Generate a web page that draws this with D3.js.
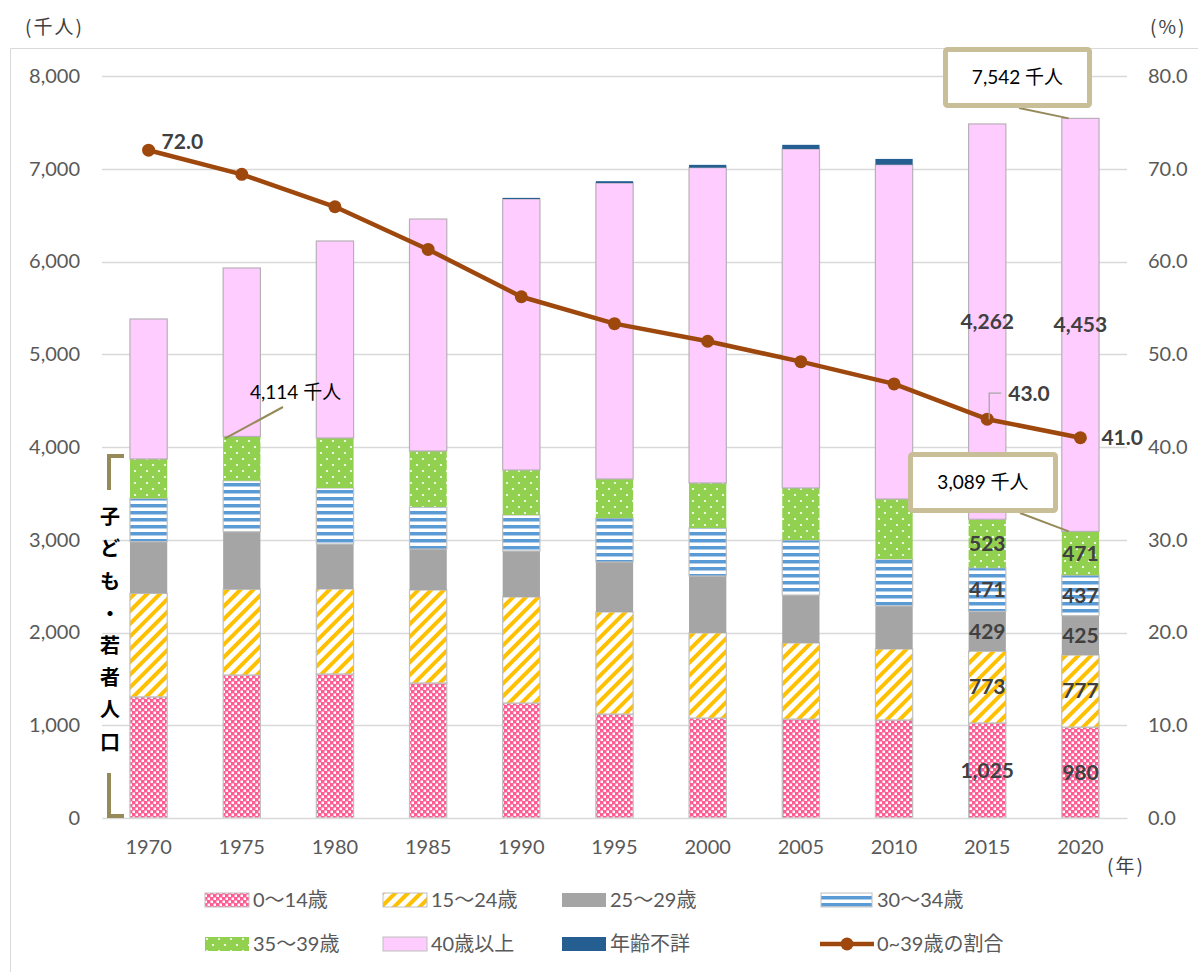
<!DOCTYPE html>
<html><head><meta charset="utf-8">
<script src="https://cdn.jsdelivr.net/npm/d3@7"></script>
<style>
html,body{margin:0;padding:0;background:#fff;}
svg{display:block;}
</style>
</head><body>
<svg id="chart" width="1198" height="972"></svg>
<script>
// ---- data ----
const years = [1970,1975,1980,1985,1990,1995,2000,2005,2010,2015,2020];
const age0_14  = [1306,1542,1553,1456,1240,1121,1078,1067,1057,1025,980];
const age15_24 = [1116, 924, 916,1002,1143,1100, 917, 820, 765, 773,777];
const age25_29 = [ 557, 621, 485, 442, 496, 539, 614, 517, 464, 429,425];
const age30_34 = [ 468, 550, 604, 453, 388, 474, 518, 593, 506, 471,437];
const age35_39 = [ 424, 477, 539, 604, 485, 421, 485, 561, 647, 523,471];
const age40plus= [1509,1816,2124,2501,2922,3191,3400,3655,3605,4262,4453];
const unknown  = [   0,   0,   0,   0,  12,  20,  30,  45,  62,   0,  0];
const ratio    = [72.0,69.4,65.9,61.3,56.2,53.3,51.4,49.2,46.8,43.0,41.0];
const leftTicks  = [0,1000,2000,3000,4000,5000,6000,7000,8000];
const rightTicks = [0,10,20,30,40,50,60,70,80];
const seriesKeys  = ["a0","a15","a25","a30","a35","a40","unk"];
const seriesNames = ["0〜14歳","15〜24歳","25〜29歳","30〜34歳","35〜39歳","40歳以上","年齢不詳"];
const lineName = "0~39歳の割合";
const labelYears = [2015,2020];
const calloutTexts = ["7,542 千人","3,089 千人","4,114 千人"];
const sideLabel = ["子","ど","も","・","若","者","人","口"];

// ---- setup ----
const svg = d3.select("#chart");
const NUM = "Lato, 'Noto Sans CJK JP', sans-serif";
const table = years.map((yr,i)=>({year:yr,a0:age0_14[i],a15:age15_24[i],a25:age25_29[i],a30:age30_34[i],a35:age35_39[i],a40:age40plus[i],unk:unknown[i],ratio:ratio[i]}));

const x = d3.scaleBand().domain(years).range([102,1127]).paddingInner(0.6).paddingOuter(0.3);
const y = d3.scaleLinear().domain([0,8000]).range([818,76]);
const y2 = d3.scaleLinear().domain([0,80]).range([818,76]);

// patterns
const defs = svg.append("defs");
let p = defs.append("pattern").attr("id","pCheck").attr("patternUnits","userSpaceOnUse").attr("width",6).attr("height",6);
p.append("rect").attr("width",6).attr("height",6).attr("fill","#ff5c93");
p.append("rect").attr("x",0.5).attr("y",0.5).attr("width",2.5).attr("height",2.5).attr("fill","#fff");
p.append("rect").attr("x",3.5).attr("y",3.5).attr("width",2.5).attr("height",2.5).attr("fill","#fff");
p = defs.append("pattern").attr("id","pDiag").attr("patternUnits","userSpaceOnUse").attr("width",9).attr("height",9).attr("patternTransform","rotate(45)");
p.append("rect").attr("width",9).attr("height",9).attr("fill","#fff");
p.append("rect").attr("width",4).attr("height",9).attr("fill","#ffc000");
p = defs.append("pattern").attr("id","pHor").attr("patternUnits","userSpaceOnUse").attr("width",8).attr("height",7);
p.append("rect").attr("width",8).attr("height",7).attr("fill","#fff");
p.append("rect").attr("y",0).attr("width",8).attr("height",3.5).attr("fill","#5b9bd5");
p = defs.append("pattern").attr("id","pDot").attr("patternUnits","userSpaceOnUse").attr("width",12).attr("height",12);
p.append("rect").attr("width",12).attr("height",12).attr("fill","#92d050");
p.append("circle").attr("cx",3).attr("cy",3).attr("r",1.1).attr("fill","#fff");
p.append("circle").attr("cx",9).attr("cy",9).attr("r",1.1).attr("fill","#fff");

const fills = {a0:"url(#pCheck)",a15:"url(#pDiag)",a25:"#a5a5a5",a30:"url(#pHor)",a35:"url(#pDot)",a40:"#ffccff",unk:"#255e91"};
const strokes = {a0:"#c0c0c0",a15:"#c0c0c0",a25:"none",a30:"#c0c0c0",a35:"none",a40:"#b8b0b8",unk:"none"};

// frame
svg.append("path").attr("d","M10.5,1000 V48.5 H1210").attr("fill","none").attr("stroke","#d9d9d9").attr("stroke-width",1);

// grid
const grid = svg.append("g");
grid.selectAll("line").data(leftTicks.filter(d=>d>0)).join("line")
  .attr("x1",102).attr("x2",1127).attr("y1",d=>Math.round(y(d))+0.5).attr("y2",d=>Math.round(y(d))+0.5)
  .attr("stroke","#d9d9d9").attr("stroke-width",1.3);

// left axis
const gl = svg.append("g").attr("transform","translate(102,0)")
  .call(d3.axisLeft(y).tickValues(leftTicks).tickFormat(d3.format(",")).tickSize(0).tickPadding(22));
gl.select(".domain").remove();
gl.selectAll("text").attr("font-family",NUM).attr("font-size",20).attr("fill","#595959");

// right axis
const gr = svg.append("g").attr("transform","translate(1127,0)")
  .call(d3.axisRight(y2).tickValues(rightTicks).tickFormat(d3.format(".1f")).tickSize(0).tickPadding(21));
gr.select(".domain").remove();
gr.selectAll("text").attr("font-family",NUM).attr("font-size",20).attr("fill","#595959");

// stacked bars
const stack = d3.stack().keys(seriesKeys)(table);
const bars = svg.append("g");
stack.forEach(layer=>{
  bars.append("g").selectAll("rect").data(layer.filter(d=>d[1]-d[0]>0)).join("rect")
    .attr("x",d=>x(d.data.year)).attr("width",x.bandwidth())
    .attr("y",d=>y(d[1])).attr("height",d=>y(d[0])-y(d[1]))
    .attr("fill",fills[layer.key]).attr("stroke",strokes[layer.key]).attr("stroke-width",1.2);
});

// x axis
const gx = svg.append("g").attr("transform","translate(0,818)")
  .call(d3.axisBottom(x).tickSize(0).tickPadding(22));
gx.select(".domain").attr("stroke","#d9d9d9").attr("stroke-width",1.5);
gx.selectAll("text").attr("font-family",NUM).attr("font-size",20).attr("fill","#595959");

// line
const cx = d=>x(d.year)+x.bandwidth()/2;
svg.append("path").datum(table)
  .attr("d",d3.line().x(cx).y(d=>y2(d.ratio)))
  .attr("fill","none").attr("stroke","#9e480e").attr("stroke-width",4.5).attr("stroke-linejoin","round");
svg.append("g").selectAll("circle").data(table).join("circle")
  .attr("cx",cx).attr("cy",d=>y2(d.ratio)).attr("r",6.5).attr("fill","#9e480e");

// segment labels
const lab = svg.append("g");
stack.filter(l=>l.key!=="unk").forEach(layer=>{
  lab.append("g").selectAll("text").data(layer.filter(d=>labelYears.includes(d.data.year))).join("text")
    .attr("x",d=>cx(d.data)).attr("y",d=>(y(d[0])+y(d[1]))/2).attr("dy","0.35em")
    .attr("text-anchor","middle").attr("font-family",NUM).attr("font-size",21).attr("font-weight","bold").attr("fill","#404040")
    .text(d=>d3.format(",")(d[1]-d[0]));
});

// line labels
const r1970 = table[0], r2015 = table[9], r2020 = table[10];
svg.append("text").attr("x",cx(r1970)+13).attr("y",y2(r1970.ratio)-9).attr("dy","0.35em")
  .attr("font-family",NUM).attr("font-size",21).attr("font-weight","bold").attr("fill","#404040").text(d3.format(".1f")(r1970.ratio));
svg.append("path").attr("d",`M${cx(r2015)+2},${y2(r2015.ratio)} V${y2(r2015.ratio)-26} H${cx(r2015)+14}`)
  .attr("fill","none").attr("stroke","#a6a6a6").attr("stroke-width",1.3);
svg.append("text").attr("x",cx(r2015)+21).attr("y",y2(r2015.ratio)-26).attr("dy","0.35em")
  .attr("font-family",NUM).attr("font-size",21).attr("font-weight","bold").attr("fill","#404040").text(d3.format(".1f")(r2015.ratio));
svg.append("text").attr("x",cx(r2020)+21).attr("y",y2(r2020.ratio)).attr("dy","0.35em")
  .attr("font-family",NUM).attr("font-size",21).attr("font-weight","bold").attr("fill","#404040").text(d3.format(".1f")(r2020.ratio));

// callouts
const tot2020 = r2020.a0+r2020.a15+r2020.a25+r2020.a30+r2020.a35+r2020.a40;
const y39_2020 = r2020.a0+r2020.a15+r2020.a25+r2020.a30+r2020.a35;
const c = svg.append("g");
function box(x0,y0,w,h,txt){
  c.append("rect").attr("x",x0).attr("y",y0).attr("width",w).attr("height",h).attr("rx",2)
    .attr("fill","#fff").attr("stroke","#c8bf98").attr("stroke-width",5);
  c.append("text").attr("x",x0+w/2).attr("y",y0+h/2).attr("dy","0.35em").attr("text-anchor","middle")
    .attr("font-family",NUM).attr("font-size",19).attr("fill","#000").text(txt);
}
c.append("line").attr("x1",1019).attr("y1",108).attr("x2",x(2020)+7).attr("y2",y(tot2020))
  .attr("stroke","#958b5a").attr("stroke-width",2);
box(945.5,49.5,144,56,calloutTexts[0]);
c.append("line").attr("x1",1020).attr("y1",513).attr("x2",x(2020)+7).attr("y2",y(y39_2020))
  .attr("stroke","#958b5a").attr("stroke-width",2);
box(910.5,454.5,145,56,calloutTexts[1]);
const r1975 = table[1];
const t1975 = r1975.a0+r1975.a15+r1975.a25+r1975.a30+r1975.a35;
c.append("line").attr("x1",x(1975)+2).attr("y1",y(t1975)+2).attr("x2",283).attr("y2",407)
  .attr("stroke","#958b5a").attr("stroke-width",2);
c.append("text").attr("x",250).attr("y",392).attr("dy","0.35em")
  .attr("font-family",NUM).attr("font-size",19).attr("fill","#000").text(calloutTexts[2]);

// side bracket
svg.append("path").attr("d","M124,456 H109 V490").attr("fill","none").attr("stroke","#958b5a").attr("stroke-width",4);
svg.append("path").attr("d","M109,773 V816 H124").attr("fill","none").attr("stroke","#958b5a").attr("stroke-width",4);
svg.append("g").selectAll("text").data(sideLabel).join("text")
  .attr("x",110).attr("y",(d,i)=>517+i*32.2).attr("dy","0.36em").attr("text-anchor","middle")
  .attr("font-family","'Noto Sans CJK JP', sans-serif").attr("font-size",20).attr("font-weight","bold").attr("fill","#000").text(d=>d);

// unit labels
const unitStyle = s=>s.attr("font-family","'Noto Sans CJK JP', sans-serif").attr("font-size",19).attr("fill","#404040").attr("dy","0.35em").attr("letter-spacing",2);
svg.append("text").attr("x",25).attr("y",27).text("(千人)").call(unitStyle);
svg.append("text").attr("x",1150).attr("y",27).text("(%)").call(unitStyle);
svg.append("text").attr("x",1107).attr("y",866).text("(年)").call(unitStyle);

// legend
const legX = [205,383,562,821];
const legY = [900,944];
const lg = svg.append("g");
seriesKeys.forEach((k,i)=>{
  const col = i%4, row = Math.floor(i/4);
  const gx0 = legX[col];
  lg.append("rect").attr("x",gx0).attr("y",legY[row]-7).attr("width",i===3?51:44).attr("height",14)
    .attr("fill",fills[k]).attr("stroke",strokes[k]==="none"?"none":"#bfbfbf").attr("stroke-width",1);
  lg.append("text").attr("x",gx0+(i===3?56:48)).attr("y",legY[row]).attr("dy","0.36em")
    .attr("font-family",NUM).attr("font-size",20).attr("fill","#595959").text(seriesNames[i]);
});
lg.append("line").attr("x1",820).attr("x2",874).attr("y1",legY[1]).attr("y2",legY[1]).attr("stroke","#9e480e").attr("stroke-width",4.5);
lg.append("circle").attr("cx",847).attr("cy",legY[1]).attr("r",6.5).attr("fill","#9e480e");
lg.append("text").attr("x",877).attr("y",legY[1]).attr("dy","0.36em")
  .attr("font-family",NUM).attr("font-size",20).attr("fill","#595959").text(lineName);
</script>
</body></html>
